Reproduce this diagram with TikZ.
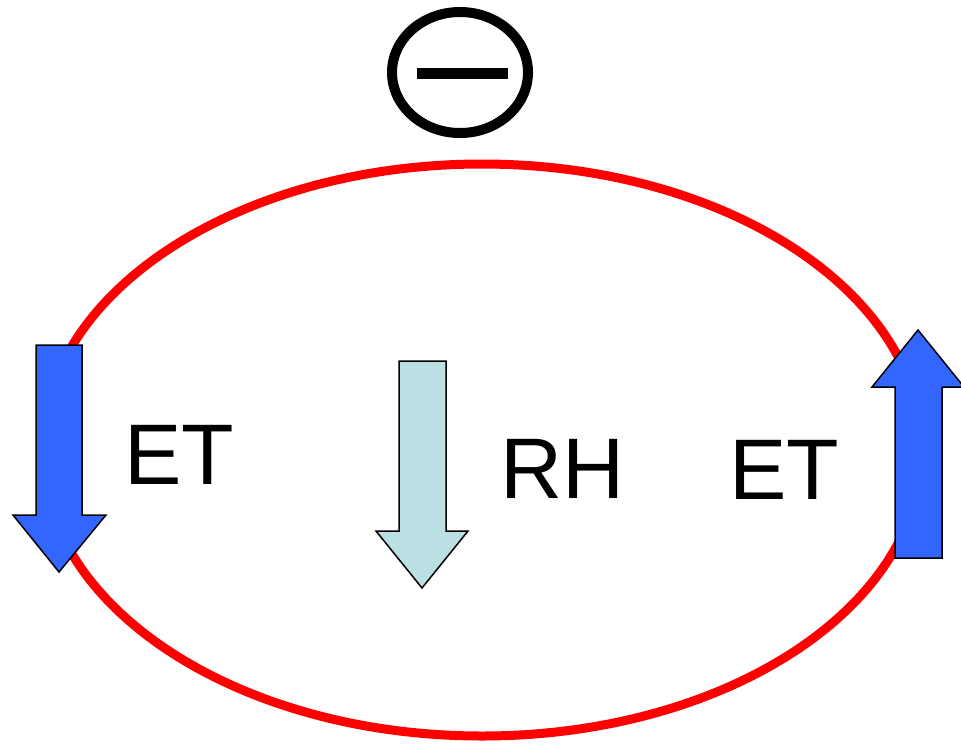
\documentclass[tikz,border=0pt]{standalone}
\usepackage{fontspec}
\setmainfont{Liberation Sans}
\definecolor{ringred}{HTML}{FF0000}
\definecolor{etblue}{HTML}{3366FF}
\definecolor{rhcyan}{HTML}{BBE0E3}
\tikzset{
  ring/.style={draw=ringred,line width=9pt},
  blockarrow/.style={draw=black,line width=1.5pt,line join=miter},
  lbl/.style={inner sep=0pt,anchor=base west,font=\fontsize{86}{90}\selectfont}
}
\begin{document}
\begin{tikzpicture}[x=1pt,y=-1pt]
\useasboundingbox (0,0) rectangle (961,745);
% ring
\draw[ring] (482,450) ellipse [x radius=440,y radius=286];
% minus sign
\draw[line width=10pt] (460,72.5) ellipse [x radius=68,y radius=60.5];
\fill (417,68) rectangle (508,79);
% left ET arrow (down)
\filldraw[blockarrow,fill=etblue] (36,345) -- (82,345) -- (82,515) -- (106,515) -- (59,572) -- (13,515) -- (36,515) -- cycle;
% middle RH arrow (down)
\filldraw[blockarrow,fill=rhcyan] (399,361) -- (446,361) -- (446,531) -- (468,531) -- (422,588) -- (376,531) -- (399,531) -- cycle;
% right ET arrow (up)
\filldraw[blockarrow,fill=etblue] (895,558) -- (942,558) -- (942,387) -- (964,387) -- (918,330) -- (872,387) -- (895,387) -- cycle;
% labels
\node[lbl] (et1) at (124.4,484) {ET};
\node[lbl] (rh) at (500,498) {RH};
\node[lbl] (et2) at (729.4,499) {ET};
\end{tikzpicture}
\end{document}
